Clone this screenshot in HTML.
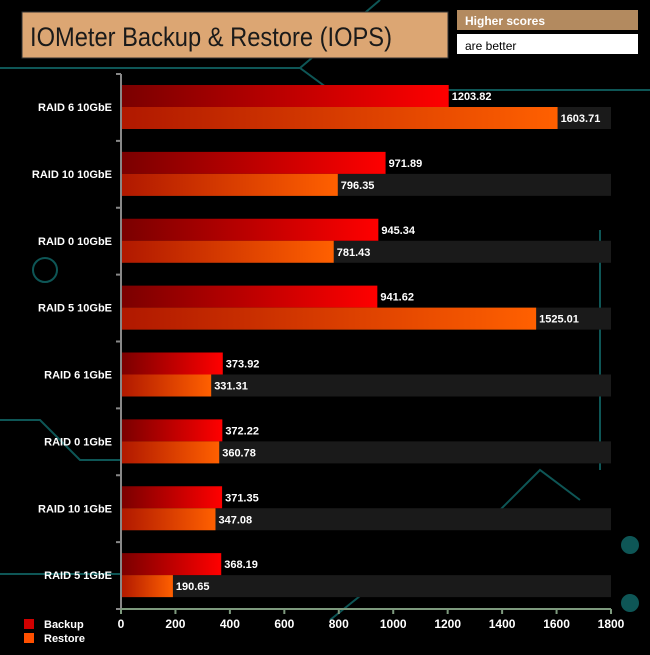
<!DOCTYPE html>
<html><head><meta charset="utf-8"><style>
body{margin:0;background:#000;width:650px;height:650px;overflow:hidden;font-family:"Liberation Sans",sans-serif}
svg text{font-family:"Liberation Sans",sans-serif}
</style></head><body>
<svg id="c" width="650" height="650" viewBox="0 0 650 650" xmlns="http://www.w3.org/2000/svg">
<defs>
<linearGradient id="gb" x1="0" x2="1"><stop offset="0" stop-color="#7a0000"/><stop offset="1" stop-color="#ff0000"/></linearGradient>
<linearGradient id="gr" x1="0" x2="1"><stop offset="0" stop-color="#b01800"/><stop offset="1" stop-color="#ff6000"/></linearGradient>
</defs>
<g stroke="#0e5656" stroke-width="2" fill="none">
<path d="M0 68 H300 L330 90 H650"/><path d="M0 420 H40 L80 460 H120"/><path d="M0 574 H120"/><path d="M330 620 L380 580 H450"/><path d="M500 510 L540 470 L580 500"/><path d="M600 230 V470"/><path d="M380 0 L300 68"/>
<circle cx="630" cy="545" r="8" fill="#0e5656"/><circle cx="630" cy="603" r="8" fill="#0e5656"/><circle cx="45" cy="270" r="12"/>
</g>
<rect x="22" y="12" width="426" height="46" fill="#dca673" stroke="#333"/>
<text x="30" y="46" font-size="27" textLength="362" lengthAdjust="spacingAndGlyphs" fill="#1a1a1a">IOMeter Backup &amp; Restore (IOPS)</text>
<rect x="457" y="10" width="181" height="20" fill="#b38a5f"/>
<text x="465" y="25" font-size="12" font-weight="bold" fill="#fff">Higher scores</text>
<rect x="457" y="34" width="181" height="20" fill="#fff"/>
<text x="465" y="50" font-size="12" fill="#000">are better</text>
<g id="plot"></g>
<rect x="24" y="619" width="10" height="10" fill="#d00000"/>
<text x="44" y="628" font-size="11" font-weight="bold" fill="#fff">Backup</text>
<rect x="24" y="633" width="10" height="10" fill="#ff5000"/>
<text x="44" y="642" font-size="11" font-weight="bold" fill="#fff">Restore</text>
</svg>
<script>
const categories=["RAID 6 10GbE","RAID 10 10GbE","RAID 0 10GbE","RAID 5 10GbE","RAID 6 1GbE","RAID 0 1GbE","RAID 10 1GbE","RAID 5 1GbE"];
const backup=[1203.82,971.89,945.34,941.62,373.92,372.22,371.35,368.19];
const restore=[1603.71,796.35,781.43,1525.01,331.31,360.78,347.08,190.65];
const ticks=[0,200,400,600,800,1000,1200,1400,1600,1800];
const NS="http://www.w3.org/2000/svg";
const X0=121,X1=611,Y0=74,Y1=609,MAX=1800;
const xs=v=>X0+(X1-X0)*v/MAX;
const band=(Y1-Y0)/categories.length;
const g=document.getElementById('plot');
function mk(t,a,txt){const e=document.createElementNS(NS,t);for(const k in a)e.setAttribute(k,a[k]);if(txt!==undefined)e.textContent=txt;g.appendChild(e);return e;}
categories.forEach((c,i)=>{
 const y=Y0+i*band;
 const s=mk('rect',{x:X0,y:y+33,width:X1-X0,height:22,fill:'#1a1a1a'});
 
 
 const b=mk('rect',{x:X0,y:y+11,width:xs(backup[i])-X0,height:22,fill:'url(#gb)'});
 
 
 const r=mk('rect',{x:X0,y:y+33,width:xs(restore[i])-X0,height:22,fill:'url(#gr)'});
 
 
 const bl=mk('text',{x:xs(backup[i])+3,y:y+26,'font-size':11,'font-weight':'bold',fill:'#fff'},backup[i].toFixed(2));
 
 
 const rl=mk('text',{x:xs(restore[i])+3,y:y+48,'font-size':11,'font-weight':'bold',fill:'#fff'},restore[i].toFixed(2));
 
 
 const cl=mk('text',{x:112,y:y+37,'font-size':11,'font-weight':'bold',fill:'#fff','text-anchor':'end'},c);
 
 
 mk('line',{x1:X0-5,x2:X0,y1:y,y2:y,stroke:'#888','stroke-width':2});
});
mk('line',{x1:X0-5,x2:X0,y1:Y1,y2:Y1,stroke:'#888','stroke-width':2});
const ya=mk('line',{x1:X0,x2:X0,y1:Y0,y2:Y1,stroke:'#888','stroke-width':2});


const xa=mk('line',{x1:X0,x2:X1,y1:Y1,y2:Y1,stroke:'#7d9a7d','stroke-width':2});


ticks.forEach(t=>{
 mk('line',{x1:xs(t),x2:xs(t),y1:Y1,y2:Y1+5,stroke:'#7d9a7d','stroke-width':2});
 const tl=mk('text',{x:xs(t),y:628,'font-size':12,'font-weight':'bold',fill:'#fff','text-anchor':'middle'},t);
 
 
});
</script>
</body></html>
